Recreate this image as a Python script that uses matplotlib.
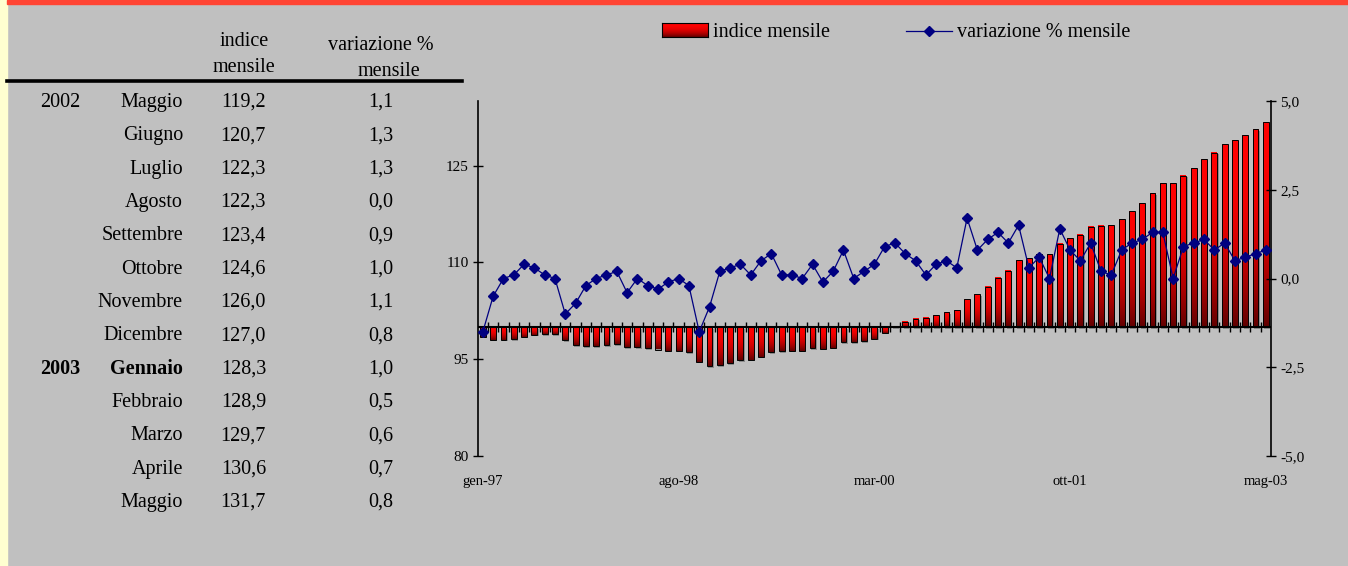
import numpy as np
import matplotlib
matplotlib.use('Agg')
import matplotlib.pyplot as plt
from matplotlib.lines import Line2D
from matplotlib.patches import Rectangle

plt.rcParams['font.family'] = ['Liberation Serif', 'DejaVu Serif']

# tabella a sinistra
anni = ['2002', '', '', '', '', '', '', '', '2003', '', '', '', '']
mesi = ['Maggio', 'Giugno', 'Luglio', 'Agosto', 'Settembre', 'Ottobre', 'Novembre',
        'Dicembre', 'Gennaio', 'Febbraio', 'Marzo', 'Aprile', 'Maggio']
indice_tab = ['119,2', '120,7', '122,3', '122,3', '123,4', '124,6', '126,0',
              '127,0', '128,3', '128,9', '129,7', '130,6', '131,7']
var_tab = ['1,1', '1,3', '1,3', '0,0', '0,9', '1,0', '1,1', '0,8', '1,0', '0,5', '0,6', '0,7', '0,8']
riga_grassetto = 8

# serie mensili gen-97 .. mag-03
indice = [98.5, 98.0, 98.0, 98.1, 98.5, 98.8, 98.9, 98.9, 97.9, 97.2,
          97.0, 97.0, 97.2, 97.3, 96.9, 96.9, 96.7, 96.5, 96.3, 96.3,
          96.1, 94.6, 93.9, 94.1, 94.4, 94.8, 94.9, 95.4, 96.1, 96.2,
          96.3, 96.3, 96.7, 96.6, 96.8, 97.6, 97.6, 97.8, 98.2, 99.1,
          100.1, 100.8, 101.3, 101.4, 101.8, 102.3, 102.6, 104.3, 105.1, 106.2,
          107.6, 108.7, 110.3, 110.6, 111.3, 111.3, 112.9, 113.7, 114.3, 115.5,
          115.7, 115.8, 116.7, 117.9, 119.2, 120.7, 122.3, 122.3, 123.4, 124.6,
          126.0, 127.0, 128.3, 128.9, 129.7, 130.6, 131.7]
variazione = [-1.5, -0.5, 0.0, 0.1, 0.4, 0.3, 0.1, 0.0, -1.0, -0.7,
              -0.2, 0.0, 0.1, 0.2, -0.4, 0.0, -0.2, -0.3, -0.1, 0.0,
              -0.2, -1.5, -0.8, 0.2, 0.3, 0.4, 0.1, 0.5, 0.7, 0.1,
              0.1, 0.0, 0.4, -0.1, 0.2, 0.8, 0.0, 0.2, 0.4, 0.9,
              1.0, 0.7, 0.5, 0.1, 0.4, 0.5, 0.3, 1.7, 0.8, 1.1,
              1.3, 1.0, 1.5, 0.3, 0.6, 0.0, 1.4, 0.8, 0.5, 1.0,
              0.2, 0.1, 0.8, 1.0, 1.1, 1.3, 1.3, 0.0, 0.9, 1.0,
              1.1, 0.8, 1.0, 0.5, 0.6, 0.7, 0.8]
etichette_x = ['gen-97', 'ago-98', 'mar-00', 'ott-01', 'mag-03']
pos_etichette = [0, 19, 38, 57, 76]
base = 100

W, H = 1348, 566
fig = plt.figure(figsize=(W / 100, H / 100), dpi=100, facecolor='#C0C0C0')


def fx(x):
    return x / W


def fy(y):
    return 1 - y / H


# bordi colorati
fig.patches.append(Rectangle((0, 0), fx(7), 1, transform=fig.transFigure, color='#FFFFD0', zorder=0))
fig.patches.append(Rectangle((fx(7), fy(4)), 1, 4 / H, transform=fig.transFigure, color='#FF4433', zorder=0))

# tabella
fs = 14.5
fig.text(fx(244), fy(46), 'indice', ha='center', fontsize=fs)
fig.text(fx(244), fy(72), 'mensile', ha='center', fontsize=fs)
fig.text(fx(381), fy(50), 'variazione %', ha='center', fontsize=fs)
fig.text(fx(389), fy(76), 'mensile', ha='center', fontsize=fs)
fig.add_artist(Line2D([fx(7), fx(462)], [fy(81), fy(81)], color='black', lw=2.6))
for i in range(len(mesi)):
    yb = fy(107 + i * 33.33)
    peso = 'bold' if i == riga_grassetto else 'normal'
    fig.text(fx(40), yb, anni[i], fontsize=fs, weight=peso)
    fig.text(fx(183), yb, mesi[i], ha='right', fontsize=fs, weight=peso)
    fig.text(fx(266), yb, indice_tab[i], ha='right', fontsize=fs)
    fig.text(fx(393), yb, var_tab[i], ha='right', fontsize=fs)

# gradiente per le barre (rosso in alto, bordeaux in basso)
t = np.linspace(0, 1, 120)
grad = np.zeros((120, 1, 3))
grad[:, 0, 0] = 1.0 - 0.62 * t ** 2.2

ax = fig.add_axes([fx(477.7), fy(456), (1271 - 477.7) / W, (456 - 101) / H])
ax.set_facecolor('none')
x = np.arange(len(indice))
w = 0.57
for xi, v in zip(x, indice):
    lo, hi = min(v, base), max(v, base)
    ax.add_patch(Rectangle((xi - w / 2 + 0.12, lo - 0.25), w, hi - lo, color='#8C8C8C', lw=0, zorder=1))
    ax.imshow(grad, extent=(xi - w / 2, xi + w / 2, lo, hi), aspect='auto', zorder=2,
              interpolation='bilinear')
    ax.add_patch(Rectangle((xi - w / 2, lo), w, hi - lo, fill=False, ec='black', lw=0.7, zorder=3))

ax.axhline(base, color='black', lw=1.5, zorder=4)
ax.plot(x[:-1] + 0.5, np.full(len(x) - 1, base), ls='none', marker='|', ms=6.5, mew=1,
        color='black', zorder=4)
ax.set_xlim(-0.5, len(x) - 0.5)
ax.set_ylim(80, 135)
ax.set_yticks([80, 95, 110, 125])
ax.tick_params(axis='y', direction='inout', length=7, width=1, labelsize=11, pad=3)
ax.set_xticks(pos_etichette, etichette_x)
ax.tick_params(axis='x', length=0, pad=14, labelsize=10.5)
for s in ['top', 'right', 'bottom']:
    ax.spines[s].set_visible(False)
ax.spines['left'].set_linewidth(1.2)

ax2 = ax.twinx()
ax2.plot(x, variazione, color='#000080', lw=0.9, marker='D', ms=5, mfc='#000080',
         mec='#000080', zorder=5)
ax2.set_ylim(-5, 5)
ax2.set_yticks([5, 2.5, 0, -2.5, -5], ['5,0', '2,5', '0,0', '-2,5', '-5,0'])
ax2.tick_params(axis='y', direction='inout', length=7, width=1, labelsize=11, pad=3)
for s in ['top', 'left', 'bottom']:
    ax2.spines[s].set_visible(False)
ax2.spines['right'].set_linewidth(1.2)

# legenda
axl = fig.add_axes([fx(661.7), fy(37.3), 46.6 / W, 14 / H])
axl.imshow(grad, aspect='auto', extent=(0, 1, 0, 1), interpolation='bilinear')
axl.set_xticks([])
axl.set_yticks([])
for s in axl.spines.values():
    s.set_linewidth(0.8)
fig.text(fx(713), fy(37), 'indice mensile', fontsize=fs)
fig.add_artist(Line2D([fx(905.7), fx(952.3)], [fy(31), fy(31)], color='#000080', lw=0.9))
fig.add_artist(Line2D([fx(929.3)], [fy(31)], marker='D', ms=5, color='#000080'))
fig.text(fx(957), fy(37), 'variazione % mensile', fontsize=fs)

fig.savefig('out.png', dpi=100, facecolor=fig.get_facecolor())
